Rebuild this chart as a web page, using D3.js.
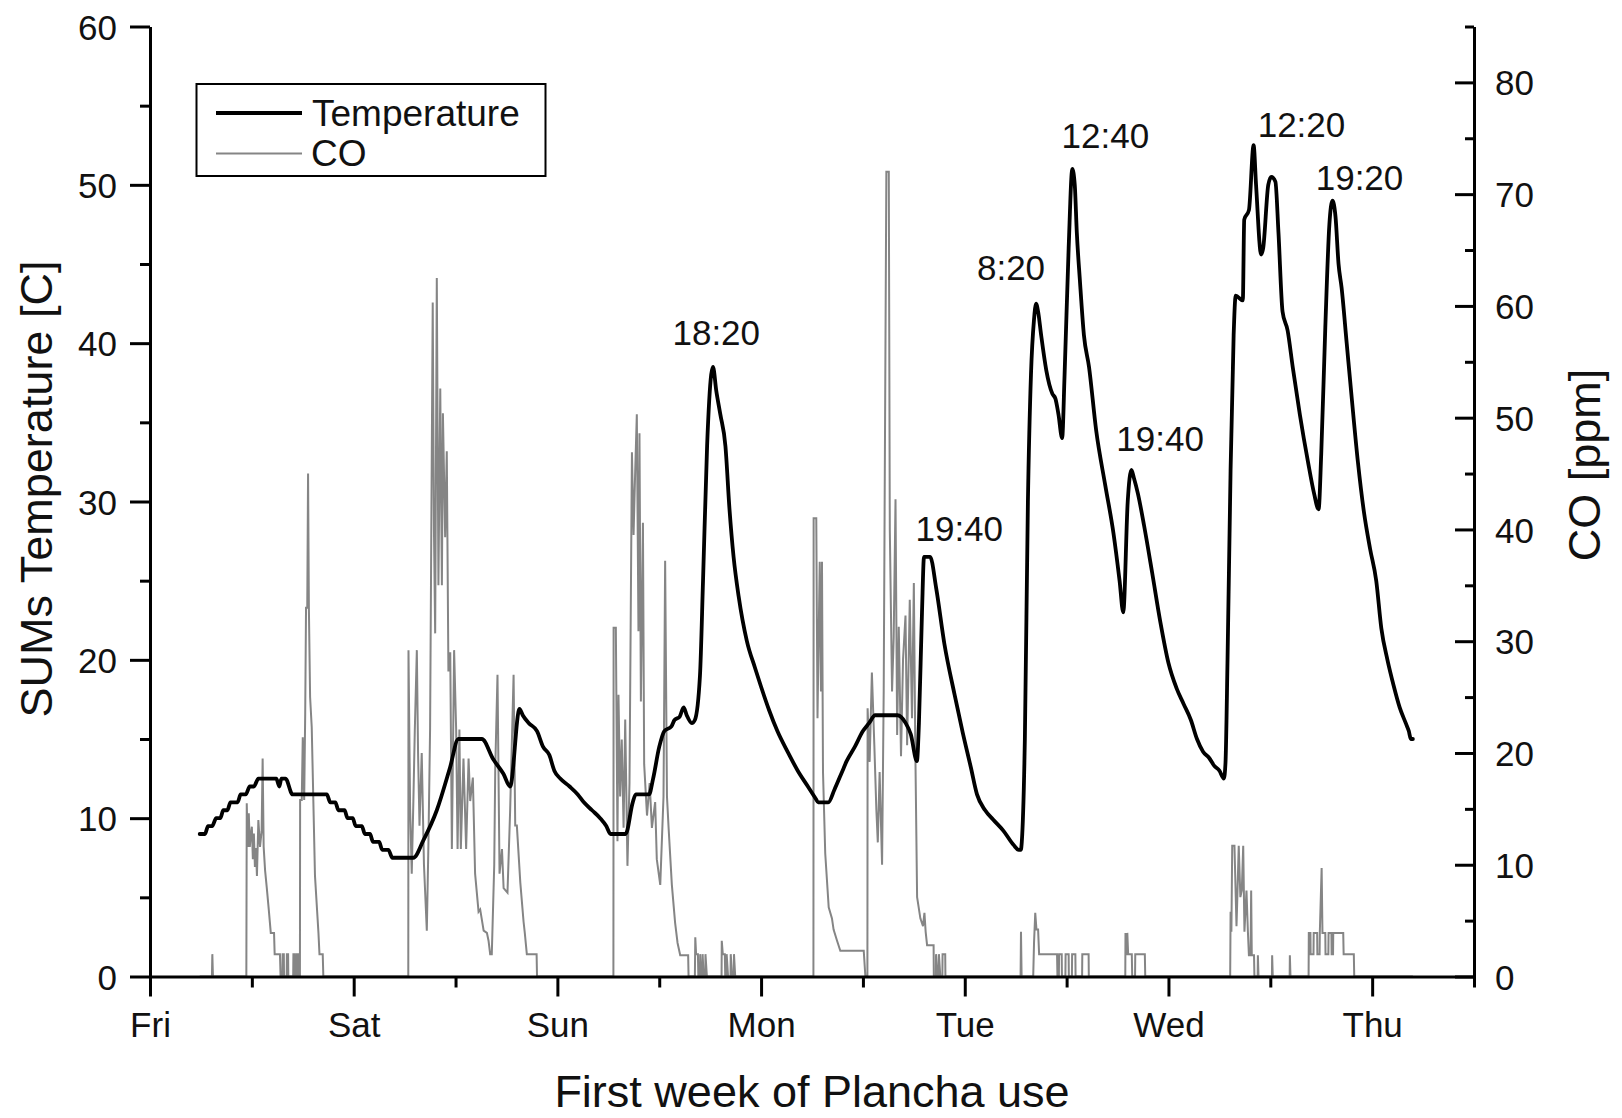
<!DOCTYPE html>
<html>
<head>
<meta charset="utf-8">
<title>First week of Plancha use</title>
<script src="https://d3js.org/d3.v7.min.js"></script>
<style>
  html, body { margin: 0; padding: 0; background: #fff; }
  svg { display: block; }
  text { font-family: "Liberation Sans", Arial, Helvetica, sans-serif; fill: #111; }
</style>
</head>
<body>
<script>
// ---- data -------------------------------------------------------------
// time axis: days since Friday 00:00
const dayLabels = ["Fri", "Sat", "Sun", "Mon", "Tue", "Wed", "Thu"];
const tempTicks = [0, 10, 20, 30, 40, 50, 60];
const coTicks = [0, 10, 20, 30, 40, 50, 60, 70, 80];

// SUMs temperature [C]: [day, value]
const temperature = [
  [0.244, 9.0], [0.27, 9.0], [0.285, 9.5], [0.305, 9.5], [0.325, 10.0], [0.345, 10.0],
  [0.36, 10.5], [0.38, 10.5], [0.395, 11.0], [0.43, 11.0], [0.445, 11.5], [0.47, 11.5],
  [0.49, 12.0], [0.51, 12.0], [0.532, 12.5], [0.62, 12.5], [0.635, 12.0], [0.645, 12.5],
  [0.665, 12.5], [0.70, 11.5], [0.868, 11.5], [0.885, 11.0], [0.91, 11.0], [0.925, 10.5],
  [0.955, 10.5], [0.97, 10.0], [0.995, 10.0], [1.01, 9.5], [1.04, 9.5], [1.055, 9.0],
  [1.08, 9.0], [1.095, 8.5], [1.125, 8.5], [1.14, 8.0], [1.17, 8.0], [1.19, 7.5],
  [1.293, 7.5], [1.342, 8.6], [1.408, 10.5], [1.473, 13.2], [1.514, 15.0], [1.629, 15.0],
  [1.686, 13.7], [1.735, 12.8], [1.768, 12.0], [1.814, 16.9], [1.83, 16.5], [1.86, 16.0],
  [1.90, 15.5], [1.93, 14.5], [1.96, 14.0], [1.985, 13.0], [2.014, 12.5], [2.06, 12.0],
  [2.10, 11.5], [2.13, 11.0], [2.17, 10.5], [2.21, 10.0], [2.24, 9.5], [2.261, 9.0],
  [2.335, 9.0], [2.37, 11.0], [2.385, 11.5], [2.45, 11.5], [2.47, 12.5], [2.50, 14.5],
  [2.525, 15.5], [2.56, 15.8], [2.575, 16.2], [2.60, 16.4], [2.62, 17.0], [2.635, 16.5],
  [2.66, 16.0], [2.675, 16.2], [2.70, 19.0], [2.715, 25.0], [2.735, 33.5], [2.755, 38.0],
  [2.764, 38.5], [2.78, 37.0], [2.80, 35.5], [2.825, 33.5], [2.845, 29.5], [2.865, 26.5],
  [2.89, 24.0], [2.93, 21.2], [2.97, 19.5], [3.0, 18.3], [3.04, 16.8], [3.08, 15.5],
  [3.13, 14.2], [3.18, 13.0], [3.23, 12.0], [3.27, 11.2], [3.28, 11.0], [3.33, 11.0],
  [3.36, 11.8], [3.40, 13.0], [3.42, 13.6], [3.46, 14.5], [3.50, 15.5], [3.53, 16.0],
  [3.56, 16.5], [3.67, 16.5], [3.71, 16.0], [3.735, 15.3], [3.765, 13.6], [3.775, 16.0],
  [3.79, 23.0], [3.80, 26.5], [3.83, 26.5], [3.86, 24.5], [3.90, 21.0], [3.95, 17.8],
  [3.99, 15.4], [4.03, 13.2], [4.06, 11.5], [4.10, 10.5], [4.14, 9.9], [4.19, 9.2],
  [4.24, 8.3], [4.265, 8.0], [4.275, 8.0], [4.28, 8.5], [4.295, 15.0], [4.31, 30.0],
  [4.325, 38.0], [4.34, 41.5], [4.35, 42.5], [4.36, 42.0], [4.375, 40.5], [4.40, 38.3],
  [4.43, 36.8], [4.445, 36.5], [4.46, 35.5], [4.478, 34.0], [4.49, 38.0], [4.51, 46.0],
  [4.528, 51.0], [4.54, 50.0], [4.55, 47.0], [4.565, 44.0], [4.585, 40.5], [4.61, 38.5],
  [4.645, 34.5], [4.69, 31.0], [4.73, 28.0], [4.76, 25.0], [4.778, 23.0], [4.80, 30.0],
  [4.818, 32.0], [4.83, 31.5], [4.85, 30.5], [4.88, 28.5], [4.92, 25.5], [4.96, 22.4],
  [5.0, 19.8], [5.04, 18.2], [5.075, 17.2], [5.11, 16.2], [5.14, 15.0], [5.17, 14.2],
  [5.20, 13.8], [5.225, 13.3], [5.25, 13.0], [5.272, 12.5], [5.28, 13.5], [5.29, 20.0],
  [5.305, 32.0], [5.32, 40.5], [5.33, 43.0], [5.365, 42.7], [5.372, 47.8], [5.395, 48.4],
  [5.418, 52.5], [5.43, 50.0], [5.455, 45.6], [5.465, 46.0], [5.49, 50.0], [5.505, 50.5],
  [5.525, 50.2], [5.54, 47.0], [5.56, 42.0], [5.585, 40.8], [5.61, 38.5], [5.645, 35.5],
  [5.685, 32.5], [5.715, 30.5], [5.737, 29.5], [5.75, 33.0], [5.77, 41.0], [5.79, 47.5],
  [5.805, 49.0], [5.82, 48.0], [5.835, 45.0], [5.85, 43.5], [5.875, 40.0], [5.90, 36.5],
  [5.93, 32.5], [5.96, 29.3], [5.99, 27.0], [6.02, 25.0], [6.045, 22.0], [6.075, 20.0],
  [6.105, 18.4], [6.135, 17.0], [6.165, 16.0], [6.18, 15.5], [6.19, 15.0], [6.20, 15.0]
];

// CO [ppm]: [day, value]
const co = [
  [0.244, 0], [0.304, 0], [0.306, 2], [0.309, 0],
  [0.473, 0], [0.475, 15.5], [0.48, 11.6], [0.485, 14.6], [0.49, 11.6], [0.494, 12.5],
  [0.50, 13.4], [0.505, 10.5], [0.51, 12.8], [0.515, 9.8], [0.52, 11.5], [0.525, 9.0],
  [0.532, 14.0], [0.54, 11.6], [0.548, 13.0], [0.553, 19.5], [0.558, 11.6], [0.565, 9.5],
  [0.573, 8.0], [0.583, 6.0], [0.593, 3.9], [0.609, 3.9], [0.612, 2], [0.638, 2], [0.641, 0],
  [0.650, 0], [0.651, 2], [0.657, 2], [0.658, 0], [0.671, 0], [0.672, 2], [0.678, 2], [0.679, 0],
  [0.703, 0], [0.704, 2], [0.711, 2], [0.712, 0], [0.72, 0], [0.721, 2], [0.728, 2], [0.729, 0],
  [0.736, 0], [0.737, 15.8], [0.745, 15.8], [0.75, 21.4], [0.757, 15.8], [0.762, 23.6],
  [0.766, 33.0], [0.772, 33.0], [0.776, 45.0], [0.78, 33.0], [0.786, 25.0], [0.794, 22.3],
  [0.81, 9.0], [0.82, 6.0], [0.827, 3.9], [0.832, 2], [0.848, 2], [0.851, 0],
  [1.268, 0], [1.269, 29.2], [1.277, 15], [1.285, 9.2], [1.293, 15.7], [1.30, 22],
  [1.31, 29.2], [1.316, 20], [1.323, 13.5], [1.334, 20.0], [1.345, 10], [1.359, 4.1],
  [1.367, 12], [1.375, 22.1], [1.388, 60.3], [1.394, 40], [1.40, 30.7], [1.408, 62.5],
  [1.416, 35.0], [1.425, 52.6], [1.433, 35], [1.438, 50.4], [1.449, 39.3], [1.457, 47.0],
  [1.465, 27.3], [1.474, 29], [1.482, 11.4], [1.493, 29.2], [1.503, 22.1], [1.51, 11.4],
  [1.519, 22.1], [1.526, 11.4], [1.539, 19.5], [1.552, 11.4], [1.564, 19.5], [1.572, 15.7],
  [1.585, 17.8], [1.596, 9.2], [1.613, 5.8], [1.621, 6.0], [1.638, 4.1], [1.654, 3.9],
  [1.662, 3.2], [1.67, 2.0], [1.678, 2.0], [1.69, 10], [1.695, 18.7], [1.706, 27.0],
  [1.716, 9.2], [1.728, 11.4], [1.736, 7.9], [1.755, 7.5], [1.768, 14.8], [1.785, 27.0],
  [1.793, 13.5], [1.801, 13.5], [1.818, 8.4], [1.834, 4.9], [1.84, 3.9], [1.85, 2.0],
  [1.898, 2.0], [1.90, 0],
  [2.275, 0], [2.276, 31.2], [2.287, 31.2], [2.295, 12.1], [2.30, 25.2], [2.308, 16.1],
  [2.316, 21.2], [2.325, 13.3], [2.333, 23.0], [2.344, 9.9], [2.354, 17.3], [2.366, 46.9],
  [2.374, 39.5], [2.382, 45.2], [2.39, 50.3], [2.398, 30.9], [2.403, 48.6], [2.41, 24.6],
  [2.42, 40.6], [2.426, 19.0], [2.44, 14.4], [2.453, 17.3], [2.464, 13.3], [2.48, 15.6],
  [2.488, 10.5], [2.505, 8.2], [2.521, 16.1], [2.529, 37.2], [2.538, 16.1], [2.546, 13.3],
  [2.562, 8.2], [2.578, 4.8], [2.59, 3.0], [2.603, 1.9], [2.642, 1.9], [2.644, 0],
  [2.675, 0], [2.677, 3.5], [2.681, 2], [2.69, 2], [2.692, 0], [2.70, 0], [2.701, 2], [2.706, 0],
  [2.712, 0], [2.713, 2], [2.718, 0], [2.726, 0], [2.727, 2], [2.734, 0],
  [2.806, 0], [2.807, 3.2], [2.812, 2], [2.822, 2], [2.824, 0], [2.83, 0], [2.831, 2], [2.838, 0],
  [2.85, 0], [2.851, 2], [2.858, 0], [2.866, 0], [2.867, 2], [2.873, 0],
  [3.257, 0], [3.258, 41.0], [3.271, 41.0], [3.277, 23.1], [3.288, 37.1], [3.294, 25.5],
  [3.299, 37.1], [3.304, 18.3], [3.315, 11.0], [3.332, 6.2], [3.348, 5.2], [3.356, 4.2],
  [3.373, 3.2], [3.389, 2.3], [3.504, 2.3], [3.512, 0],
  [3.522, 0], [3.523, 24.0], [3.533, 19.2], [3.544, 27.2], [3.556, 20.7], [3.566, 14.9],
  [3.573, 12.0], [3.582, 18.3], [3.594, 10.0], [3.602, 25.5], [3.615, 72.0], [3.627, 72.0],
  [3.632, 40.0], [3.643, 25.5], [3.651, 30.3], [3.66, 42.7], [3.668, 21.6], [3.676, 31.3],
  [3.687, 19.7], [3.697, 28.4], [3.709, 32.3], [3.717, 20.7], [3.73, 33.7], [3.741, 23.1],
  [3.75, 35.2], [3.757, 20.7], [3.766, 7.1], [3.782, 5.2], [3.795, 4.5], [3.802, 5.7],
  [3.808, 4.0], [3.815, 2.8], [3.847, 2.8], [3.848, 0], [3.858, 0], [3.859, 2], [3.866, 0],
  [3.872, 0], [3.873, 2], [3.88, 0], [3.89, 0], [3.891, 2], [3.904, 2], [3.905, 0],
  [4.274, 0], [4.276, 4.0], [4.279, 0],
  [4.336, 0], [4.34, 3.0], [4.346, 5.7], [4.352, 4.2], [4.36, 4.2], [4.365, 2.0], [4.453, 2.0],
  [4.455, 0], [4.462, 0], [4.463, 2], [4.476, 2], [4.477, 0], [4.494, 0], [4.495, 2], [4.51, 2],
  [4.511, 0], [4.526, 0], [4.527, 2], [4.543, 2], [4.544, 0], [4.576, 0], [4.577, 2], [4.608, 2],
  [4.609, 0],
  [4.788, 0], [4.789, 3.9], [4.792, 2], [4.797, 2], [4.798, 3.9], [4.802, 2], [4.82, 2],
  [4.822, 0], [4.836, 0], [4.837, 2], [4.884, 2], [4.886, 0],
  [5.303, 0], [5.305, 5.8], [5.309, 4.0], [5.313, 11.7], [5.324, 11.7], [5.334, 4.5],
  [5.338, 7.0], [5.345, 11.7], [5.353, 7.1], [5.36, 7.7], [5.367, 11.7], [5.373, 4.0],
  [5.383, 7.7], [5.39, 4.0], [5.395, 1.9], [5.403, 1.9], [5.406, 7.7], [5.409, 1.9],
  [5.42, 1.9], [5.422, 0], [5.438, 0], [5.439, 1.9], [5.442, 0], [5.508, 0], [5.509, 1.9],
  [5.512, 0], [5.595, 0], [5.596, 1.9], [5.599, 0],
  [5.688, 0], [5.689, 3.9], [5.697, 3.9], [5.698, 2.0], [5.712, 2.0], [5.713, 3.9], [5.73, 3.9],
  [5.731, 2.0], [5.742, 2.0], [5.743, 3.9], [5.752, 9.7], [5.756, 3.9], [5.77, 3.9],
  [5.771, 2.0], [5.785, 2.0], [5.786, 3.9], [5.80, 3.9], [5.801, 2.0], [5.808, 2.0],
  [5.809, 3.9], [5.858, 3.9], [5.86, 2.0], [5.91, 2.0], [5.912, 0], [6.20, 0]
];

// times of the main temperature peaks, anchored in data units
const peakLabels = [
  { text: "18:20", day: 2.78, temp: 39.9 },
  { text: "19:40", day: 3.973, temp: 27.5 },
  { text: "8:20", day: 4.227, temp: 44.0 },
  { text: "12:40", day: 4.69, temp: 52.3 },
  { text: "19:40", day: 4.959, temp: 33.2 },
  { text: "12:20", day: 5.653, temp: 53.0 },
  { text: "19:20", day: 5.938, temp: 49.7 }
];

// ---- layout -----------------------------------------------------------
const W = 1622, H = 1118;
const plotLeft = 150, plotRight = 1474, plotTop = 26.5, plotBottom = 976.5;
const tickFont = 35, titleFont = 45;

const svg = d3.select("body").append("svg")
  .attr("width", W).attr("height", H)
  .attr("viewBox", `0 0 ${W} ${H}`);

const x = d3.scaleLinear().domain([0, 6.5]).range([plotLeft, plotRight]);
const yT = d3.scaleLinear().domain([0, 60]).range([plotBottom, plotTop]);
const yC = d3.scaleLinear().domain([0, 85]).range([plotBottom, plotTop]);

// ---- series -----------------------------------------------------------
const coLine = d3.line().x(d => x(d[0])).y(d => yC(d[1]));
const tLine = d3.line().curve(d3.curveMonotoneX).x(d => x(d[0])).y(d => yT(d[1]));

svg.append("path")
  .datum(co)
  .attr("d", coLine)
  .attr("fill", "none")
  .attr("stroke", "#858585")
  .attr("stroke-width", 2)
  .attr("stroke-linejoin", "miter");

svg.append("path")
  .datum(temperature)
  .attr("d", tLine)
  .attr("fill", "none")
  .attr("stroke", "#000")
  .attr("stroke-width", 3.8)
  .attr("stroke-linejoin", "round")
  .attr("stroke-linecap", "round");

// ---- axes -------------------------------------------------------------
function styleAxis(g) {
  g.selectAll(".domain").attr("stroke", "#000").attr("stroke-width", 3);
  g.selectAll(".tick line").attr("stroke", "#000").attr("stroke-width", 3);
  g.selectAll("text")
    .attr("font-size", tickFont)
    .attr("font-family", "Liberation Sans, Arial, sans-serif")
    .attr("fill", "#111");
}

// bottom (days)
const gx = svg.append("g").attr("transform", `translate(0,${plotBottom})`)
  .call(d3.axisBottom(x).tickValues(d3.range(0, dayLabels.length))
    .tickFormat(i => dayLabels[i]).tickSize(20).tickSizeOuter(0))
  .call(styleAxis);
gx.selectAll("text").attr("y", 60.5).attr("dy", 0);

svg.append("g").attr("transform", `translate(0,${plotBottom})`)
  .call(d3.axisBottom(x).tickValues(d3.range(0.5, 6.6, 1)).tickFormat("").tickSize(11))
  .call(g => g.select(".domain").remove())
  .call(styleAxis);

// left (temperature)
const gl = svg.append("g").attr("transform", `translate(${plotLeft},0)`)
  .call(d3.axisLeft(yT).tickValues(tempTicks).tickSize(20).tickSizeOuter(0).tickPadding(13))
  .call(styleAxis);
gl.selectAll("text").attr("dy", "0.36em");

svg.append("g").attr("transform", `translate(${plotLeft},0)`)
  .call(d3.axisLeft(yT).tickValues(d3.range(5, 60, 10)).tickFormat("").tickSize(10))
  .call(g => g.select(".domain").remove())
  .call(styleAxis);

// right (CO), ticks pointing into the plot
const gr = svg.append("g").attr("transform", `translate(${plotRight},0)`)
  .call(d3.axisRight(yC).tickValues(coTicks).tickSizeInner(-19).tickSizeOuter(0).tickPadding(21))
  .call(styleAxis);
gr.selectAll("text").attr("dy", "0.36em");

svg.append("g").attr("transform", `translate(${plotRight},0)`)
  .call(d3.axisRight(yC).tickValues(d3.range(5, 86, 10)).tickFormat("").tickSizeInner(-9).tickSizeOuter(0))
  .call(g => g.select(".domain").remove())
  .call(styleAxis);

// ---- axis titles ------------------------------------------------------
svg.append("text")
  .attr("transform", `translate(52,489) rotate(-90)`)
  .attr("text-anchor", "middle")
  .attr("font-size", titleFont)
  .text("SUMs Temperature [C]");

svg.append("text")
  .attr("transform", `translate(1600,465) rotate(-90)`)
  .attr("text-anchor", "middle")
  .attr("font-size", titleFont)
  .text("CO [ppm]");

svg.append("text")
  .attr("x", (plotLeft + plotRight) / 2)
  .attr("y", 1107)
  .attr("text-anchor", "middle")
  .attr("font-size", titleFont)
  .text("First week of Plancha use");

// ---- peak time labels -------------------------------------------------
svg.append("g").selectAll("text")
  .data(peakLabels)
  .join("text")
  .attr("x", d => x(d.day))
  .attr("y", d => yT(d.temp))
  .attr("text-anchor", "middle")
  .attr("font-size", tickFont)
  .text(d => d.text);

// ---- legend -----------------------------------------------------------
const legend = svg.append("g");
legend.append("rect")
  .attr("x", 196.5).attr("y", 84).attr("width", 349).attr("height", 92)
  .attr("fill", "#fff").attr("stroke", "#000").attr("stroke-width", 2);
legend.append("line")
  .attr("x1", 216).attr("x2", 302).attr("y1", 113).attr("y2", 113)
  .attr("stroke", "#000").attr("stroke-width", 4);
legend.append("line")
  .attr("x1", 216).attr("x2", 302).attr("y1", 153.5).attr("y2", 153.5)
  .attr("stroke", "#858585").attr("stroke-width", 2);
legend.append("text")
  .attr("x", 312).attr("y", 125.5).attr("font-size", 37).text("Temperature");
legend.append("text")
  .attr("x", 311).attr("y", 165.5).attr("font-size", 37).text("CO");
</script>
</body>
</html>
